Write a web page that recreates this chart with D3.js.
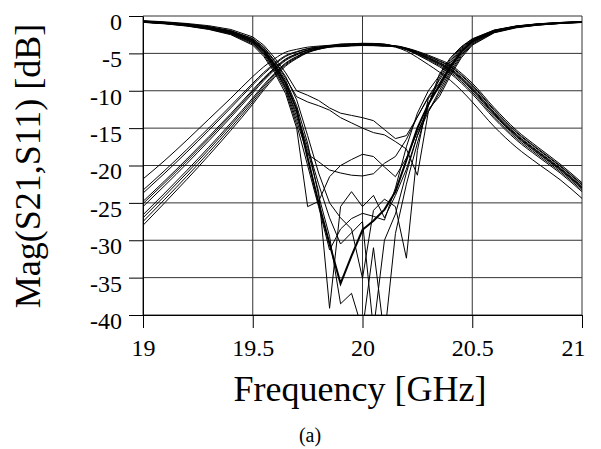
<!DOCTYPE html>
<html>
<head>
<meta charset="utf-8">
<script src="https://cdn.jsdelivr.net/npm/d3@7"></script>
<style>
  body { margin: 0; background: #fff; }
  svg text { font-family: "Liberation Serif", "Times New Roman", serif; fill: #000; }
</style>
</head>
<body>
<svg id="chart" width="601" height="449"></svg>
<script>
// sweep frequencies (GHz) shared by every run
const freqGHz = [19.0, 19.1, 19.2, 19.3, 19.4, 19.5, 19.55, 19.6, 19.65, 19.7, 19.75, 19.8, 19.85, 19.9, 19.95,
  20.0, 20.05, 20.1, 20.15, 20.2, 20.25, 20.3, 20.35, 20.4, 20.45, 20.5, 20.6, 20.7, 20.8, 20.9, 21.0];

const xTicks = [19, 19.5, 20, 20.5, 21];
const yTicks = [0, -5, -10, -15, -20, -25, -30, -35, -40];

// |S21| in dB, one array per tolerance run
const s21_1 = [-21.8, -19.3, -16.6, -13.8, -11.0, -8.1, -6.8, -5.7, -4.84, -4.46, -4.17, -4.03, -3.92, -3.76, -3.75, -3.7, -3.72, -3.79, -4.03, -4.34, -4.83, -5.42, -6.06, -6.8, -7.97, -9.34, -12.64, -15.57, -17.89, -20.1, -22.6];
const s21_2 = [-23.3, -20.64, -17.85, -14.97, -12.0, -9.0, -7.55, -6.32, -5.29, -4.76, -4.35, -4.13, -3.98, -3.89, -3.85, -3.8, -3.82, -3.9, -4.06, -4.42, -4.99, -5.66, -6.38, -7.2, -8.41, -9.82, -13.12, -16.01, -18.31, -20.5, -23.0];
const s21_3 = [-23.7, -21.0, -18.2, -15.29, -12.29, -9.22, -7.75, -6.48, -5.41, -4.84, -4.39, -4.16, -4.0, -3.99, -3.95, -3.9, -3.92, -3.99, -4.0, -4.28, -4.71, -5.24, -5.82, -6.5, -7.64, -8.98, -12.28, -15.24, -17.57, -19.8, -22.3];
const s21_4 = [-24.8, -22.02, -19.13, -16.14, -13.06, -9.88, -8.3, -6.92, -5.74, -5.06, -4.53, -4.24, -4.04, -3.87, -3.8, -3.75, -3.77, -3.85, -4.05, -4.4, -4.95, -5.6, -6.3, -7.1, -8.3, -9.7, -13.0, -15.9, -18.2, -20.4, -22.9];
const s21_5 = [-25.1, -22.29, -19.39, -16.38, -13.27, -10.06, -8.45, -7.04, -5.83, -5.12, -4.56, -4.26, -4.05, -3.97, -3.9, -3.85, -3.87, -3.94, -4.02, -4.32, -4.79, -5.36, -5.98, -6.7, -7.86, -9.22, -12.52, -15.46, -17.78, -20.0, -22.5];
const s21_6 = [-25.5, -22.66, -19.73, -16.69, -13.55, -10.3, -8.65, -7.2, -5.95, -5.2, -4.61, -4.29, -4.07, -3.78, -3.7, -3.65, -3.67, -3.75, -4.07, -4.44, -5.03, -5.72, -6.46, -7.3, -8.52, -9.94, -13.24, -16.12, -18.41, -20.6, -23.1];
const s21_7 = [-26.6, -23.67, -20.66, -17.55, -14.32, -10.96, -9.2, -7.64, -6.28, -5.42, -4.74, -4.36, -4.11, -4.1, -4.01, -3.95, -3.97, -4.05, -4.04, -4.38, -4.91, -5.54, -6.22, -7.0, -8.19, -9.58, -12.88, -15.79, -18.1, -20.3, -22.8];
const s21_8 = [-27.0, -24.04, -21.0, -17.86, -14.6, -11.2, -9.4, -7.8, -6.4, -5.5, -4.79, -4.39, -4.13, -3.88, -3.78, -3.72, -3.74, -3.83, -4.08, -4.48, -5.11, -5.84, -6.62, -7.5, -8.74, -10.18, -13.48, -16.34, -18.62, -20.8, -23.3];
const s21_9 = [-27.5, -24.5, -21.43, -18.25, -14.95, -11.5, -9.65, -8.0, -6.55, -5.6, -4.85, -4.43, -4.15, -4.05, -3.94, -3.88, -3.9, -3.99, -4.1, -4.52, -5.19, -5.96, -6.78, -7.7, -8.96, -10.42, -13.72, -16.56, -18.83, -21.0, -23.5];
const s21_10 = [-28.0, -24.96, -21.85, -18.64, -15.3, -11.8, -9.9, -8.2, -6.7, -5.7, -4.91, -4.46, -4.17, -3.98, -3.86, -3.8, -3.82, -3.93, -4.17, -4.7, -5.55, -6.5, -7.5, -8.6, -9.95, -11.5, -14.8, -17.55, -19.78, -21.9, -24.4];

// |S11| in dB; s11_1 is the nominal design (drawn heavier)
const s11_1 = [-0.75, -0.92, -1.18, -1.55, -2.15, -3.3, -4.6, -6.6, -9.0, -12.5, -19.0, -25.0, -30.5, -35.8, -32.1, -28.6, -27.4, -25.9, -23.5, -19.3, -15.0, -11.8, -9.3, -6.8, -4.8, -3.4, -2.05, -1.45, -1.15, -0.95, -0.8];
const s11_2 = [-0.62, -0.78, -1.0, -1.3, -1.8, -2.8, -3.9, -5.6, -7.6, -10.0, -10.6, -11.3, -12.3, -13.0, -13.3, -13.6, -14.0, -15.2, -16.4, -16.0, -13.5, -10.8, -8.6, -6.3, -4.5, -3.25, -1.98, -1.4, -1.1, -0.92, -0.78];
const s11_3 = [-0.7, -0.87, -1.1, -1.45, -2.0, -3.05, -4.25, -6.1, -8.3, -10.8, -11.5, -12.0, -12.6, -13.6, -14.3, -15.0, -15.6, -15.9, -16.8, -17.8, -21.3, -12.8, -10.0, -7.4, -5.2, -3.65, -2.15, -1.5, -1.18, -0.98, -0.82];
const s11_4 = [-0.85, -1.05, -1.35, -1.8, -2.5, -3.9, -5.4, -7.6, -10.4, -15.0, -25.5, -24.8, -21.5, -20.0, -19.2, -18.5, -18.8, -20.2, -21.5, -19.0, -15.5, -12.5, -10.8, -8.0, -5.6, -3.9, -2.25, -1.58, -1.22, -1.0, -0.85];
const s11_5 = [-0.8, -1.0, -1.28, -1.7, -2.35, -3.6, -5.0, -7.1, -9.7, -14.0, -18.5, -19.5, -20.6, -21.0, -21.3, -21.4, -21.1, -19.7, -18.8, -16.5, -13.5, -10.9, -9.0, -6.55, -4.65, -3.32, -2.0, -1.42, -1.12, -0.93, -0.79];
const s11_6 = [-0.78, -0.96, -1.23, -1.62, -2.25, -3.45, -4.8, -6.85, -9.4, -13.5, -18.0, -23.5, -39.1, -25.5, -23.5, -25.5, -24.0, -27.0, -24.0, -20.5, -16.0, -12.8, -10.4, -7.7, -5.4, -3.78, -2.2, -1.54, -1.2, -0.99, -0.84];
const s11_7 = [-0.72, -0.9, -1.14, -1.5, -2.08, -3.18, -4.42, -6.35, -8.6, -12.0, -17.0, -24.0, -29.5, -38.5, -37.1, -42.0, -31.0, -43.0, -29.1, -22.5, -17.0, -12.0, -8.3, -6.05, -4.35, -3.18, -1.94, -1.38, -1.08, -0.9, -0.77];
const s11_8 = [-0.83, -1.02, -1.32, -1.75, -2.42, -3.75, -5.2, -7.35, -10.0, -14.5, -20.0, -25.5, -31.3, -28.5, -27.1, -26.4, -26.8, -27.3, -23.0, -17.5, -13.0, -10.0, -8.0, -5.8, -4.2, -3.1, -1.9, -1.35, -1.05, -0.88, -0.75];
const s11_9 = [-0.68, -0.85, -1.08, -1.42, -1.95, -3.0, -4.15, -5.95, -8.1, -11.2, -16.0, -21.0, -25.0, -27.0, -28.5, -35.1, -26.0, -24.5, -25.5, -32.4, -18.0, -11.0, -9.65, -7.1, -5.0, -3.52, -2.1, -1.48, -1.16, -0.96, -0.81];
const s11_10 = [-0.81, -0.99, -1.27, -1.68, -2.32, -3.55, -4.95, -7.0, -9.6, -13.0, -17.5, -22.5, -27.0, -30.5, -29.0, -27.5, -42.0, -30.0, -26.5, -21.0, -16.0, -12.0, -7.8, -5.6, -4.1, -3.05, -1.88, -1.33, -1.04, -0.87, -0.74];

const s21Runs = [s21_1, s21_2, s21_3, s21_4, s21_5, s21_6, s21_7, s21_8, s21_9, s21_10];
const s11Runs = [s11_2, s11_3, s11_4, s11_5, s11_6, s11_7, s11_8, s11_9, s11_10];

const serif = '"Liberation Serif", "Times New Roman", serif';

const margin = { top: 16, right: 19, bottom: 134, left: 143 };
const svg = d3.select('#chart');
const width = +svg.attr('width') - margin.left - margin.right;
const height = +svg.attr('height') - margin.top - margin.bottom;

const x = d3.scaleLinear().domain([19, 21]).range([0, width]);
const y = d3.scaleLinear().domain([-40, 0]).range([height, 0]);

const g = svg.append('g').attr('transform', `translate(${margin.left},${margin.top})`);

g.append('clipPath').attr('id', 'plot-clip')
  .append('rect').attr('width', width).attr('height', height);

// grid
g.append('g').selectAll('line').data(yTicks).join('line')
  .attr('x1', 0).attr('x2', width)
  .attr('y1', (d) => y(d)).attr('y2', (d) => y(d))
  .attr('stroke', '#333').attr('stroke-width', 1);
g.append('g').selectAll('line').data(xTicks).join('line')
  .attr('x1', (d) => x(d)).attr('x2', (d) => x(d))
  .attr('y1', 0).attr('y2', height)
  .attr('stroke', '#333').attr('stroke-width', 1);

// axes
const xAxis = g.append('g')
  .attr('transform', `translate(0,${height})`)
  .call(d3.axisBottom(x).tickValues(xTicks).tickSize(13).tickSizeOuter(0).tickPadding(11).tickFormat((d) => String(d)));
xAxis.selectAll('text').attr('dx', (d) => (d === 21 ? -9 : 0));

const yAxis = g.append('g')
  .call(d3.axisLeft(y).tickValues(yTicks).tickSize(14).tickSizeOuter(0).tickPadding(7).tickFormat((d) => String(d)));
yAxis.selectAll('text').attr('dy', '0.56em');

[xAxis, yAxis].forEach((axis) => {
  axis.attr('font-family', serif).attr('font-size', 24);
  axis.selectAll('text').style('font-family', serif).style('font-size', '24px');
  axis.select('.domain').attr('stroke', '#000');
  axis.selectAll('.tick line').attr('stroke', '#000');
});

// traces
const plot = g.append('g').attr('clip-path', 'url(#plot-clip)');

const s21Line = d3.line()
  .x((_, i) => x(freqGHz[i]))
  .y((d) => y(d))
  .curve(d3.curveMonotoneX);

const s11Line = d3.line()
  .x((_, i) => x(freqGHz[i]))
  .y((d) => y(d));

plot.selectAll('path.s21').data(s21Runs).join('path')
  .attr('class', 's21')
  .attr('d', s21Line)
  .attr('fill', 'none').attr('stroke', '#000').attr('stroke-width', 1);

plot.selectAll('path.s11').data(s11Runs).join('path')
  .attr('class', 's11')
  .attr('d', s11Line)
  .attr('fill', 'none').attr('stroke', '#000').attr('stroke-width', 1);

plot.append('path')
  .datum(s11_1)
  .attr('d', s11Line)
  .attr('fill', 'none').attr('stroke', '#000').attr('stroke-width', 2);

// titles
svg.append('text')
  .attr('transform', 'translate(40,166) rotate(-90)')
  .attr('text-anchor', 'middle')
  .style('font-size', '36px')
  .text('Mag(S21,S11) [dB]');

svg.append('text')
  .attr('x', 360).attr('y', 401)
  .attr('text-anchor', 'middle')
  .style('font-size', '36px')
  .text('Frequency [GHz]');

svg.append('text')
  .attr('x', 310).attr('y', 442)
  .attr('text-anchor', 'middle')
  .style('font-size', '20px')
  .text('(a)');
</script>
</body>
</html>
